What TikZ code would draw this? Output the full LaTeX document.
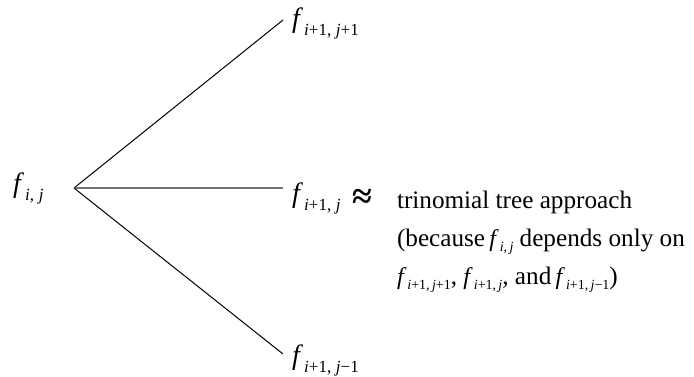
\documentclass[tikz,border=0pt]{standalone}
\usepackage{fontspec}
\setmainfont{Liberation Serif}
\usetikzlibrary{calc}

% f with a lowered subscript, set in the Times-like text font
\newcommand{\fbig}[1]{{\fontsize{14}{14}\selectfont\textit{f}}\kern0.6pt\raisebox{-4.25pt}{\fontsize{8.5}{8.5}\selectfont#1}}
\newcommand{\fsmall}[1]{{\fontsize{12}{12}\selectfont\textit{f}}\kern0.5pt\raisebox{-2.6pt}{\fontsize{7}{7}\selectfont#1}}
\newcommand{\iv}{\textit{i}}
\newcommand{\jv}{\textit{j}}

\begin{document}
\begin{tikzpicture}[x=0.5pt,y=-0.5pt,
		every node/.style={inner sep=0pt,outer sep=0pt,font=\fontsize{12.6}{19}\selectfont},
		leaf/.style={anchor=base west,inner xsep=4.5pt},
		branch/.style={line width=0.5pt,black}]
		% Keep the size of the picture
		\useasboundingbox (0,0) rectangle (694,376);
		
		% Position of the root f_{i,j} and of the branch point
		\node[anchor=base west] (fij) at (13,192) {\fbig{\iv,\;\jv}};
		\coordinate (apex) at (74,188);
		
		% The three leaves of the tree
		\node[leaf] (up) at (283,27) {\fbig{\iv+1,\;\jv+1}};
		\node[leaf] (mid) at (283,202) {\fbig{\iv+1,\;\jv}};
		\node[leaf] (down) at (283,364) {\fbig{\iv+1,\;\jv−1}};
		
		% Draw the branches going from the root to each leaf
		\draw[branch] (apex) -- ([yshift=3.5pt]up.base west);
		\draw[line width=0.9pt,black!55] (apex) -- ([yshift=7pt]mid.base west);
		\draw[branch] (apex) -- ([yshift=5pt]down.base west);
		
		% The approx sign and the note on the right
		\node (approx) at (362,199) {\fontsize{18}{18}\selectfont\bfseries ≈};
		\node[anchor=north west,align=left] (note) at (397,191)
			{trinomial tree approach\\(because\,\fsmall{\iv,\,\jv} depends only on\\\fsmall{\iv+1,\,\jv+1}, \fsmall{\iv+1,\,\jv}, and\,\fsmall{\iv+1,\,\jv−1})};
	\end{tikzpicture}
\end{document}
